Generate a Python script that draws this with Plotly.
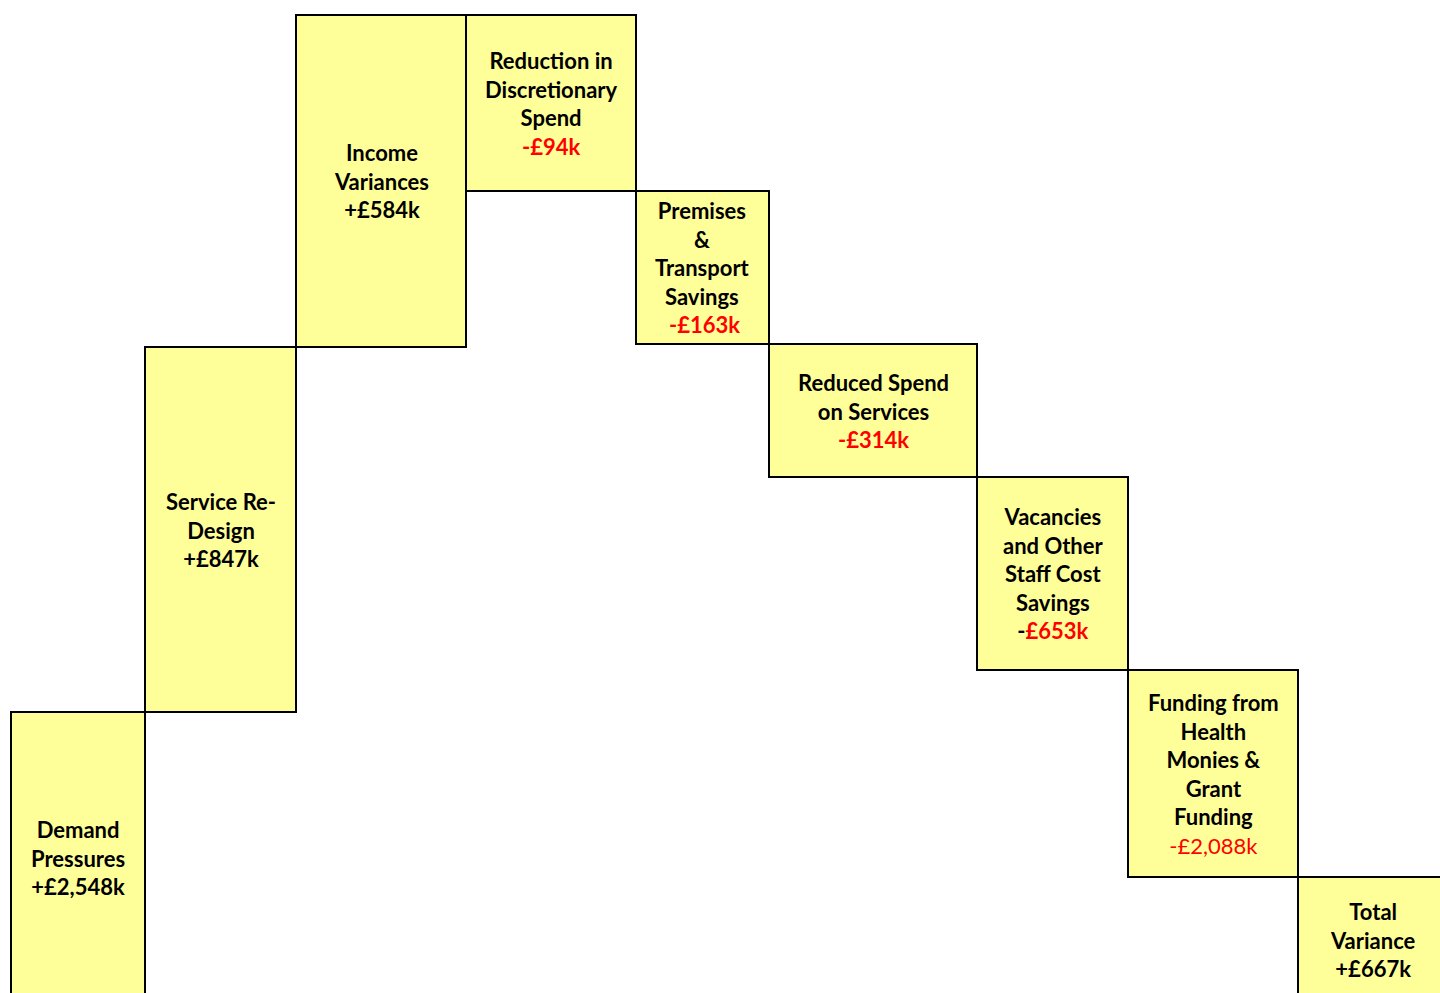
import plotly.graph_objects as go

# ---- data ----
labels = [
    "Demand<br>Pressures",
    "Service Re-<br>Design",
    "Income<br>Variances",
    "Reduction in<br>Discretionary<br>Spend",
    "Premises<br>&<br>Transport<br>Savings",
    "Reduced Spend<br>on Services",
    "Vacancies<br>and Other<br>Staff Cost<br>Savings",
    "Funding from<br>Health<br>Monies &<br>Grant<br>Funding",
    "Total<br>Variance",
]
values = [2548, 847, 584, -94, -163, -314, -653, -2088, 667]
value_text = ["+£2,548k", "+£847k", "+£584k", "-£94k", "&nbsp;-£163k", "-£314k",
              "-<span style='color:#FF0000'>£653k</span>", "-£2,088k", "+£667k"]

# ---- schematic layout (not to scale) ----
x_edges = [11, 145, 296, 466, 636, 769, 977, 1128, 1298, 1448]
y_levels = [1003, 712, 347, 15, 191, 344, 477, 670, 877]
total_base = 1003

fill = "#FFFF99"
red = "#FF0000"

centers, widths, bases, heights = [], [], [], []
for i in range(len(values)):
    x0, x1 = x_edges[i], x_edges[i + 1]
    centers.append((x0 + x1) / 2)
    widths.append(x1 - x0)
    if i < len(values) - 1:
        a, b = y_levels[i], y_levels[i + 1]
    else:
        a, b = total_base, y_levels[i]
    lo, hi = min(a, b), max(a, b)
    bases.append(lo)
    heights.append(hi - lo)

fig = go.Figure(go.Bar(
    x=centers, y=heights, base=bases, width=widths,
    marker=dict(color=fill, line=dict(color="black", width=2)),
    hoverinfo="skip",
))

for i in range(len(values)):
    mid_y = bases[i] + heights[i] / 2
    if values[i] < 0:
        if i == 6:
            vt = "<b>" + value_text[i] + "</b>"
        elif i == 7:
            vt = "<span style='color:%s'>%s</span>" % (red, value_text[i])
        else:
            vt = "<b><span style='color:%s'>%s</span></b>" % (red, value_text[i])
    else:
        vt = "<b>" + value_text[i] + "</b>"
    txt = "<b>" + labels[i] + "</b><br>" + vt
    fig.add_annotation(x=centers[i], y=mid_y, text=txt, showarrow=False,
                       xref="x", yref="y", align="center",
                       font=dict(family="Lato", size=22, color="black"))

fig.update_layout(
    width=1440, height=993,
    margin=dict(l=0, r=0, t=0, b=0),
    paper_bgcolor="white", plot_bgcolor="white",
    showlegend=False,
    xaxis=dict(range=[0, 1440], visible=False, fixedrange=True),
    yaxis=dict(range=[993, 0], visible=False, fixedrange=True),
)

fig.write_html("out.html", config={"displayModeBar": False})
